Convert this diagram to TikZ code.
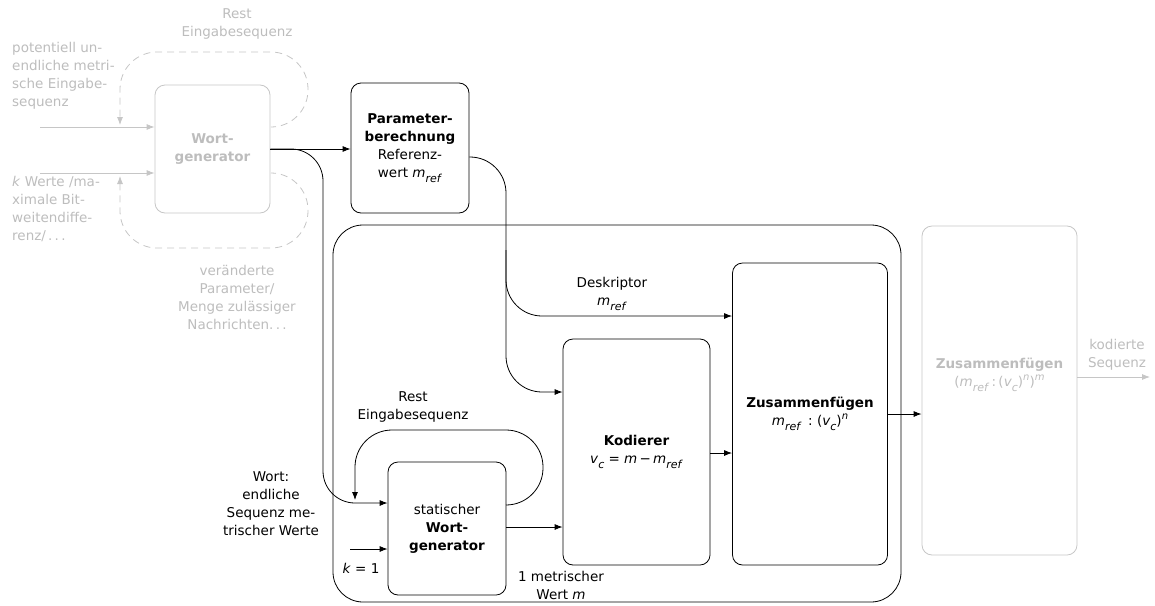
\documentclass[tikz,border=0pt]{standalone}
\usepackage{fontspec}
\setmainfont{DejaVu Sans}
\usetikzlibrary{arrows.meta}
\definecolor{lg}{HTML}{C6C6C6}
\definecolor{tg}{HTML}{BDBDBD}
\newcommand{\mysub}[1]{\raisebox{-0.32em}{\fontsize{11}{11}\selectfont\textit{#1}}}
\newcommand{\mysup}[1]{\raisebox{0.5em}{\fontsize{10}{10}\selectfont\textit{#1}}}
\newcommand{\mref}{\textit{m}\mysub{ref}}
\newcommand{\vcc}{\textit{v}\mysub{c}}
\begin{document}
\begin{tikzpicture}[x=1pt,y=-1pt,
  font=\fontsize{13.5}{18}\selectfont,
  box/.style={draw, rounded corners=10, line width=0.8pt, align=center, inner sep=0pt},
  gbox/.style={box, draw=lg, text=tg},
  arr/.style={-{Latex[length=8pt,width=6pt]}, line width=0.8pt},
  garr/.style={arr, draw=lg, -{Latex[length=8pt,width=6pt,color=lg]}},
  gdash/.style={garr, dash pattern=on 7pt off 5pt},
  lbl/.style={align=center, inner sep=0pt},
  glbl/.style={lbl, text=tg}]
\useasboundingbox (0,0) rectangle (1155,605);

% boxes
\node[gbox, minimum width=115, minimum height=128] (wg) at (212.5,149) {\textbf{Wort-}\\\textbf{generator}};
\node[box, minimum width=118, minimum height=130] (pb) at (410,148) {\textbf{Parameter-}\\\textbf{berechnung}\\Referenz-\\wert \mref};
\node[draw, rounded corners=30, line width=0.8pt, minimum width=568, minimum height=377] (cont) at (617,413.5) {};
\node[box, minimum width=155, minimum height=302] (zus) at (810,414) {\textbf{Zusammenfügen}\\\mref\ \,:\ (\vcc)\mysup{n}};
\node[box, minimum width=147, minimum height=226] (kod) at (636.5,452) {\textbf{Kodierer}\\\vcc\ =\ \textit{m}\,−\,\mref};
\node[box, minimum width=118, minimum height=133] (swg) at (447,528.5) {statischer\\\textbf{Wort-}\\\textbf{generator}};
\node[gbox, minimum width=155, minimum height=329] (gz) at (999.5,390.5) {};
\node[glbl] (gzt) at (999.5,375) {\textbf{Zusammenfügen}\\(\mref\,:\,(\vcc)\mysup{n})\mysup{m}};

% gray labels
\node[glbl] (t1) at (237,24) {Rest\\Eingabesequenz};
\node[glbl, align=left, anchor=north west] (t2) at (12,42) {potentiell un-\\endliche metri-\\sche Eingabe-\\sequenz};
\node[glbl, align=left, anchor=north west] (t3) at (12,176) {\textit{k} Werte /ma-\\ximale Bit-\\weitendiffe-\\renz/\,.\,.\,.};
\node[glbl] (t4) at (237,297) {veränderte\\Parameter/\\Menge zulässiger\\Nachrichten.\,.\,.};
\node[glbl] (t5) at (1117,355) {kodierte\\Sequenz};

% black labels
\node[lbl] (l1) at (271,504) {Wort:\\endliche\\Sequenz me-\\trischer Werte};
\node[lbl] (l2) at (612,294) {Deskriptor\\\mref};
\node[lbl] (l3) at (413,407) {Rest\\Eingabesequenz};
\node[lbl] (l4) at (361,568) {\textit{k}\ =\ 1};
\node[lbl] (l5) at (561,585) {1 metrischer\\Wert \textit{m}};

% coordinates
\coordinate (in1) at (40,127);
\coordinate (in2) at (40,173);
\coordinate (d1) at (273,127);
\coordinate (d2) at (273,173);
\coordinate (r1) at (323,503);
\coordinate (p1) at (506,316);
\coordinate (p2) at (506,250);
\coordinate (p3) at (506,392);
\coordinate (s1) at (506,505);
\coordinate (s2) at (355,500);
\coordinate (k1) at (350,549);
\coordinate (s3) at (506,527);
\coordinate (o1) at (1150,377);

% gray connectors
\draw[garr] (in1) -- (in1 -| wg.west);
\draw[garr] (in2) -- (in2 -| wg.west);
\draw[gdash, rounded corners=37] (d1) -| (308,52) -| (120,125);
\draw[gdash, rounded corners=37] (d2) -| (308,248) -| (120,176);
\draw[garr] (gz.east |- o1) -- (o1);

% black connectors
\draw[arr] (wg.east) -- (wg.east -| pb.west);
\draw[arr, rounded corners=32] (wg.east) -| (r1) -- (r1 -| swg.west);
\draw[arr, rounded corners=36] (pb.east |- 0,157) -| (p1) -- (p1 -| zus.west);
\draw[arr, rounded corners=36] (p2) -- (p3) -- (p3 -| kod.west);
\draw[arr, rounded corners=37] (s1) -| (543,430) -| (s2);
\draw[arr] (s3) -- (s3 -| kod.west);
\draw[arr] (k1) -- (k1 -| swg.west);
\draw[arr] (kod.east |- 0,453) -- (zus.west |- 0,453);
\draw[arr] (zus.east) -- (zus.east -| gz.west);
\end{tikzpicture}
\end{document}
